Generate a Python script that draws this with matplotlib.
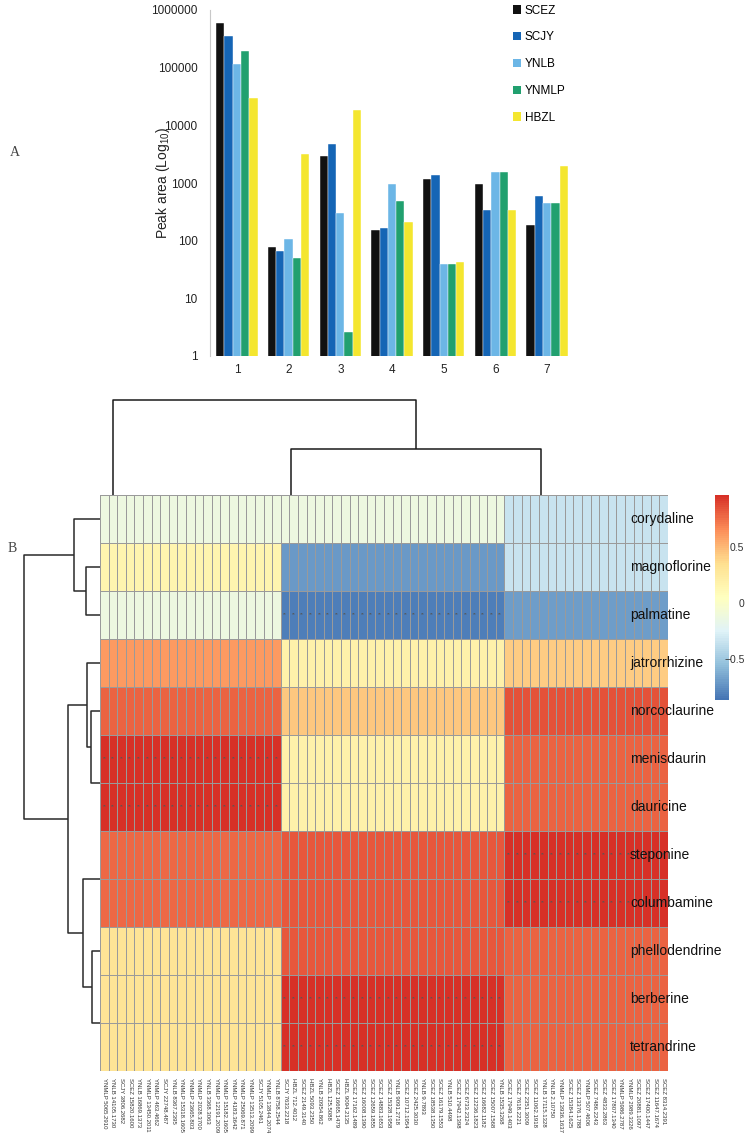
import numpy as np
import matplotlib
matplotlib.use('Agg')
import matplotlib.pyplot as plt
from matplotlib.colors import LinearSegmentedColormap, Normalize
from matplotlib.patches import Patch
from matplotlib.colorbar import ColorbarBase

plt.rcParams['font.family'] = ['Liberation Sans', 'DejaVu Sans']

# ---- panel A: peak areas of 7 compounds per origin
compounds = ['1', '2', '3', '4', '5', '6', '7']
series = ['SCEZ', 'SCJY', 'YNLB', 'YNMLP', 'HBZL']
scez = [590000, 78, 2900, 153, 1170, 960, 187]
scjy = [360000, 67, 4700, 163, 1370, 340, 590]
ynlb = [118000, 107, 305, 960, 40, 1560, 450]
ynmlp = [194000, 50, 2.6, 485, 40, 1560, 450]
hbzl = [30000, 3130, 18300, 207, 43, 340, 1950]
bar_colors = ['#111111', '#1565b5', '#6cb6e6', '#21a06f', '#f4e62f']
y_ticks = [1, 10, 100, 1000, 10000, 100000, 1000000]

# ---- panel B: clustered heatmap (columns identical within 3 groups)
row_names = ['corydaline', 'magnoflorine', 'palmatine', 'jatrorrhizine',
             'norcoclaurine', 'menisdaurin', 'dauricine', 'steponine',
             'columbamine', 'phellodendrine', 'berberine', 'tetrandrine']
col_labels = [
    'YNMLP 5065.2910', 'YNLB 14105.1730', 'SCJY 3806.2682', 'SCEZ 15820.1600',
    'YNLB 16869.1373', 'YNMLP 13450.2011', 'YNMLP 463.4662', 'SCJY 22748.487',
    'YNLB 8367.2395', 'YNMLP 15318.1605', 'YNMLP 23665.803', 'YNMLP 2028.3700',
    'YNLB 3368.3063', 'YNMLP 12191.2009', 'YNMLP 15182.1605', 'YNMLP 4183.3642',
    'YNMLP 25069.871', 'YNMLP 13513.2099', 'SCJY 5105.2461', 'YNMLP 13844.2074',
    'YNLB 8758.2544',
    'SCJY 7633.2218', 'HBZL 712.4012', 'SCEZ 2149.3140', 'HBZL 5093.2350',
    'YNLB 20954.862', 'HBZL 125.5088', 'SCEZ 16665.1479', 'HBZL 9094.2135',
    'SCEZ 17162.1489', 'SCEZ 16008.1390', 'SCEZ 12659.1855', 'SCEZ 14883.1653',
    'SCEZ 15328.1958', 'YNLB 9091.2718', 'SCEZ 10712.1954', 'SCEZ 2425.3030',
    'YNLB 9.7893', 'SCEZ 18538.1350', 'SCEZ 16179.1553', 'YNLB 510.4498',
    'SCEZ 17942.1398', 'SCEZ 6733.2324', 'SCEZ 12236.1823', 'SCEZ 16682.1182',
    'SCEZ 15007.1568', 'YNLB 1535.3268',
    'SCEZ 17949.1403', 'SCEZ 7618.2221', 'SCEZ 2351.3009', 'SCEZ 11062.1918',
    'YNLB 17115.1328', 'YNLB 2.10750', 'YNMLP 13936.1637', 'SCEZ 15384.1625',
    'SCEZ 13376.1788', 'YNMLP 507.4606', 'SCEZ 7486.2243', 'SCEZ 4833.2863',
    'SCEZ 17807.1340', 'YNMLP 5986.2787', 'YNMLP 2989.3326', 'SCEZ 20881.1097',
    'SCEZ 17400.1447', 'SCEZ 11647.1674', 'SCEZ 8314.2391']
group_sizes = [21, 26, 19]
group_values = [
    [-0.11, -0.11, -0.34],
    [0.17, -0.71, -0.33],
    [-0.11, -0.82, -0.68],
    [0.62, 0.20, 0.44],
    [0.80, 0.46, 0.86],
    [0.98, 0.19, 0.80],
    [0.98, 0.19, 0.80],
    [0.78, 0.84, 0.98],
    [0.78, 0.84, 0.98],
    [0.32, 0.84, 0.80],
    [0.32, 0.98, 0.80],
    [0.32, 0.98, 0.80],
]
star_cells = [(2, 1), (5, 0), (6, 0), (7, 2), (8, 2), (10, 1), (11, 1)]
key_ticks = [-0.5, 0, 0.5]

# dendrograms: (child a, child b, height), new node ids follow the leaves
row_links = [(5, 6, 0.0), (4, 12, 0.12), (3, 13, 0.175), (7, 8, 0.0),
             (10, 11, 0.0), (9, 16, 0.105), (15, 17, 0.22), (14, 18, 0.42),
             (1, 2, 0.19), (0, 20, 0.34), (21, 19, 1.0)]
col_group_anchor = [1.5, 22.2, 51.3]
col_links = [(1, 2, 0.48), (0, 3, 1.0)]

pal = ['#4575B4', '#91BFDB', '#E0F3F8', '#FFFFBF', '#FEE090', '#FC8D59', '#D73027']
cmap = LinearSegmentedColormap.from_list('rdylbu', pal, N=100)
norm = Normalize(vmin=-0.86, vmax=0.98)

W, H = 748, 1136


def rect(x0, y0, x1, y1):
    return [x0 / W, 1 - y1 / H, (x1 - x0) / W, (y1 - y0) / H]


def tree_segments(links, leaf_pos):
    pos = list(leaf_pos)
    hgt = [0.0] * len(leaf_pos)
    segs = []
    for a, b, h in links:
        if h > 0:
            segs.append(([hgt[a], h, h, hgt[b]], [pos[a], pos[a], pos[b], pos[b]]))
        pos.append((pos[a] + pos[b]) / 2)
        hgt.append(h)
    return segs


fig = plt.figure(figsize=(W / 100, H / 100), dpi=100)

# ---------------- panel A
ax = fig.add_axes(rect(210, 10, 574, 356))
x = np.arange(1, len(compounds) + 1)
w = 0.16
for i, (name, vals) in enumerate(zip(series, [scez, scjy, ynlb, ynmlp, hbzl])):
    ax.bar(x + (i - 2) * w, vals, width=w, color=bar_colors[i], label=name,
           edgecolor='white', linewidth=0.3)
ax.set_yscale('log')
ax.set_ylim(1, 1e6)
ax.set_xlim(0.48, 7.52)
ax.set_yticks(y_ticks)
ax.set_yticklabels([str(v) for v in y_ticks], fontsize=8.5, color='#222222')
ax.minorticks_off()
ax.set_xticks(x)
ax.set_xticklabels(compounds, fontsize=8.5, color='#222222')
ax.tick_params(length=0)
ax.tick_params(axis='y', pad=9)
ax.tick_params(axis='x', pad=6)
for s in ['top', 'right', 'bottom']:
    ax.spines[s].set_visible(False)
ax.spines['left'].set_color('#c8c8c8')
fig.text(163 / W, 1 - 183 / H, 'Peak area (Log$_{\\mathregular{10}}$)', rotation=90,
         ha='center', va='center', fontsize=10, color='#222222')
handles = [Patch(facecolor=c, label=s) for c, s in zip(bar_colors, series)]
fig.legend(handles=handles, loc='upper left', bbox_to_anchor=(508 / W, 1 - 0 / H),
           frameon=False, fontsize=8.5, handlelength=0.7, handleheight=0.7,
           handletextpad=0.3, labelspacing=1.25, borderaxespad=0)
fig.text(10 / W, 1 - 153 / H, 'A', fontsize=10, family='Liberation Serif',
         color='#444444', ha='left', va='center')
fig.text(8 / W, 1 - 548 / H, 'B', fontsize=10, family='Liberation Serif',
         color='#444444', ha='left', va='center')

# ---------------- panel B heatmap
mat = np.array([np.repeat(r, group_sizes) for r in group_values])
ncol = mat.shape[1]
nrow = mat.shape[0]
hx = fig.add_axes(rect(100, 495, 668, 1071))
hx.pcolormesh(np.arange(ncol + 1), np.arange(nrow + 1), mat, cmap=cmap, norm=norm,
              edgecolors='#9a9a9a', linewidth=0.7)
hx.set_xlim(0, ncol)
hx.set_ylim(nrow, 0)
hx.set_yticks([])
hx.set_xticks(np.arange(ncol) + 0.5)
hx.set_xticklabels(col_labels, rotation=270, fontsize=4.3, color='#333333')
hx.tick_params(axis='x', length=0, pad=5)
for s in hx.spines.values():
    s.set_visible(False)
starts = np.concatenate([[0], np.cumsum(group_sizes)])
for r, g in star_cells:
    for c in range(starts[g], starts[g + 1]):
        hx.text(c + 0.5, r + 0.5, '**', ha='center', va='center', fontsize=3.5,
                color='#555555')
for i, name in enumerate(row_names):
    hx.text(0.933, 1 - (i + 0.5) / nrow, name, transform=hx.transAxes, fontsize=10,
            ha='left', va='center', color='#111111', clip_on=False)

# row dendrogram
rx = fig.add_axes(rect(20, 495, 100, 1071))
for xs, ys in tree_segments(row_links, [i + 0.5 for i in range(nrow)]):
    rx.plot(xs, ys, color='#2a2a2a', lw=1.1, solid_capstyle='butt')
rx.set_xlim(80 / 76, 0)
rx.set_ylim(nrow, 0)
rx.axis('off')

# column dendrogram
cx = fig.add_axes(rect(100, 390, 668, 495))
for hs, ps in tree_segments(col_links, col_group_anchor):
    cx.plot(ps, hs, color='#1a1a1a', lw=1.1, solid_capstyle='butt')
cx.set_xlim(0, ncol)
cx.set_ylim(0, 105 / 95)
cx.axis('off')

# colour key; labels sit partly over the bar as in the original
kx = fig.add_axes(rect(715, 495, 729, 700))
cb = ColorbarBase(kx, cmap=cmap, norm=norm, orientation='vertical')
cb.outline.set_visible(False)
cb.set_ticks([])
for t in key_ticks:
    lab = '\u22120.5' if t < 0 else ('0' if t == 0 else '0.5')
    kx.text(2.1, norm(t), lab, transform=kx.transAxes, ha='right', va='center',
            fontsize=7.5, color='#333333', clip_on=False)

fig.savefig('out.png', dpi=100)
